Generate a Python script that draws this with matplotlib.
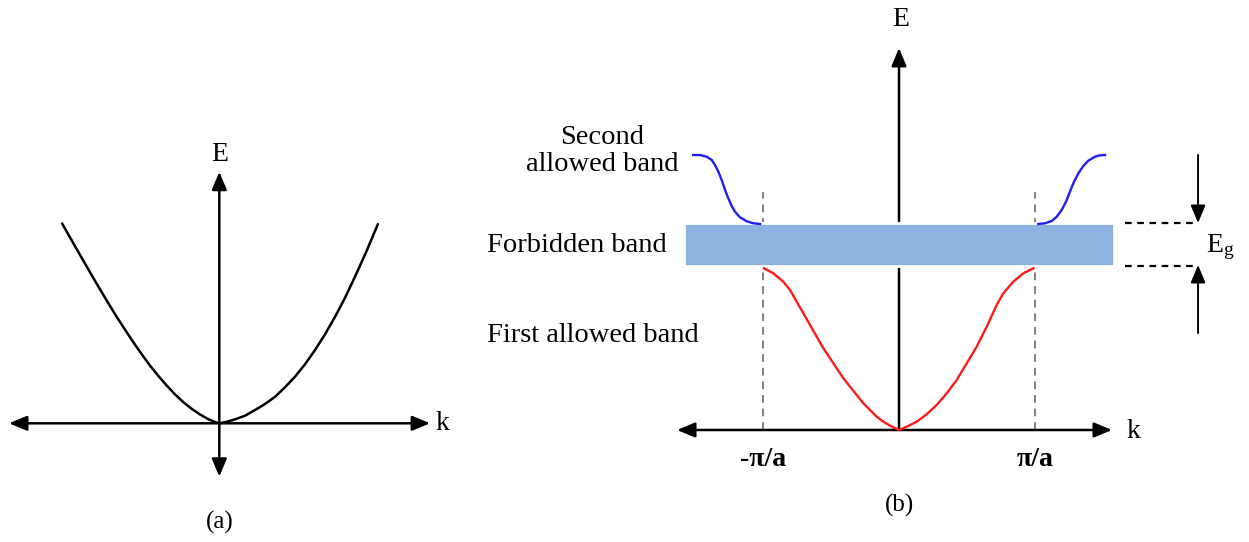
import matplotlib.pyplot as plt

plt.rcParams['font.family'] = 'Liberation Serif'
plt.rcParams['mathtext.fontset'] = 'custom'
plt.rcParams['mathtext.rm'] = 'Liberation Serif'

# (a) free electron, E against k
free_k = [-0.998, -0.924, -0.861, -0.808, -0.755, -0.703, -0.650, -0.597, -0.544, -0.491,
          -0.439, -0.386, -0.333, -0.280, -0.228, -0.175, -0.122, -0.070, -0.016, 0.0,
          0.049, 0.099, 0.163, 0.226, 0.289, 0.353, 0.416, 0.479, 0.542, 0.606,
          0.669, 0.733, 0.796, 0.859, 0.933, 1.006]
free_E = [1.270, 1.140, 1.030, 0.938, 0.848, 0.761, 0.675, 0.593, 0.513, 0.437,
          0.366, 0.300, 0.239, 0.183, 0.134, 0.092, 0.056, 0.026, 0.004, 0.0,
          0.010, 0.025, 0.048, 0.084, 0.122, 0.168, 0.228, 0.295, 0.373, 0.464,
          0.563, 0.675, 0.795, 0.928, 1.092, 1.266]

# (b) electron in a crystal, k in units of pi/a
first_k = [-0.993, -0.924, -0.851, -0.801, -0.752, -0.703, -0.654, -0.605, -0.556, -0.507,
           -0.458, -0.409, -0.360, -0.311, -0.262, -0.213, -0.164, -0.115, -0.066, 0.0,
           0.057, 0.130, 0.203, 0.277, 0.351, 0.424, 0.498, 0.571, 0.645, 0.718,
           0.767, 0.840, 0.914, 0.988]
first_E = [1.617, 1.567, 1.483, 1.400, 1.283, 1.167, 1.050, 0.933, 0.817, 0.717,
           0.617, 0.517, 0.433, 0.350, 0.267, 0.200, 0.133, 0.083, 0.043, 0.0,
           0.033, 0.083, 0.157, 0.250, 0.367, 0.500, 0.667, 0.833, 1.033, 1.250,
           1.367, 1.483, 1.567, 1.617]

second_left_k = [-1.513, -1.463, -1.414, -1.377, -1.353, -1.328, -1.304, -1.279, -1.255,
                 -1.230, -1.206, -1.169, -1.120, -1.071, -1.022]
second_left_E = [2.750, 2.750, 2.733, 2.700, 2.650, 2.583, 2.500, 2.400, 2.317,
                 2.240, 2.183, 2.127, 2.087, 2.067, 2.060]
second_right_k = [1.024, 1.074, 1.123, 1.160, 1.196, 1.228, 1.257, 1.287, 1.319,
                  1.355, 1.392, 1.441, 1.478, 1.515]
second_right_E = [2.060, 2.067, 2.090, 2.133, 2.200, 2.283, 2.383, 2.483, 2.567,
                  2.640, 2.693, 2.733, 2.747, 2.750]

gap_bottom = 1.64
gap_top = 2.07
zone_edges = [-1, 1]
zone_labels = ['-π/a', 'π/a']

W, H = 1249, 542
fig = plt.figure(figsize=(W / 100, H / 100), dpi=100)


def arrow(ax, start, tip, both=False, lw=1.8):
    style = '<|-|>' if both else '-|>'
    ax.annotate('', xy=tip, xytext=start,
                arrowprops=dict(arrowstyle=style + ',head_length=0.6,head_width=0.25',
                                lw=lw, color='black', mutation_scale=18,
                                shrinkA=0, shrinkB=0))


# ---- panel (a) ----
ox, oy, s = 219.3, 423.3, 158.0
ax = fig.add_axes([0, 0, 460 / W, 412 / H])
ax.set_xlim((0 - ox) / s, (460 - ox) / s)
ax.set_ylim((oy - 542) / s, (oy - 130) / s)
ax.axis('off')
ax.plot(free_k, free_E, color='black', lw=1.8, solid_joinstyle='round',
        solid_capstyle='butt')
arrow(ax, (-1.331, 0), (1.334, 0), both=True)
arrow(ax, (0, -0.338), (0, 1.592), both=True)
ax.text(0, 1.70, 'E', ha='center', va='center', fontsize=20)
ax.text(1.37, 0.0, 'k', ha='left', va='center', fontsize=20)
ax.text(0, -0.625, '(a)', ha='center', va='center', fontsize=18)

# ---- panel (b) ----
ox, oy, sx, sy = 899.0, 430.0, 136.0, 100.0
bx = fig.add_axes([460 / W, 0, (W - 460) / W, 1])
bx.set_xlim((460 - ox) / sx, (W - ox) / sx)
bx.set_ylim((oy - H) / sy, oy / sy)
bx.axis('off')

for k in zone_edges:
    bx.plot([k, k], [0, 2.38], color='#7f7f7f', lw=1.4, ls=(0, (4, 3)), zorder=1)

arrow(bx, (-1.632, 0), (1.566, 0), both=True)
arrow(bx, (0, 0), (0, 3.82))

bx.fill_between([-1.581, 1.581], gap_bottom, gap_top, facecolor='#8db1e0',
                edgecolor='white', lw=2, zorder=3)

line_kw = dict(lw=1.7, zorder=4, solid_joinstyle='round')
bx.plot(first_k, first_E, color='#ff1a1a', **line_kw)
bx.plot(second_left_k, second_left_E, color='#1f1fef', **line_kw)
bx.plot(second_right_k, second_right_E, color='#1f1fef', **line_kw)

for k, lab in zip(zone_edges, zone_labels):
    bx.text(k, -0.30, lab, ha='center', va='center', fontsize=20, fontweight='bold')

bx.text(0.01, 4.10, 'E', ha='center', va='center', fontsize=20)
bx.text(1.67, -0.02, 'k', ha='left', va='center', fontsize=20)
bx.text(0, -0.75, '(b)', ha='center', va='center', fontsize=18)

bx.text(-2.184, 2.79, 'Second\nallowed band', ha='center', va='center',
        fontsize=20.5, linespacing=1.1)
bx.text(-3.03, 1.85, 'Forbidden band', ha='left', va='center', fontsize=20.5)
bx.text(-3.03, 0.95, 'First allowed band', ha='left', va='center', fontsize=20.5)

# energy gap marker
for e in [gap_top, gap_bottom]:
    bx.plot([1.662, 2.191], [e, e], color='black', lw=1.6, ls=(0, (3, 2.5)))
arrow(bx, (2.199, 2.75), (2.199, gap_top), lw=1.4)
arrow(bx, (2.199, 0.97), (2.199, gap_bottom + 0.01), lw=1.4)
bx.text(2.257, 1.83, r'$\mathregular{E_g}$', ha='left', va='center', fontsize=20)

fig.savefig('out.png', dpi=100, facecolor='white')
